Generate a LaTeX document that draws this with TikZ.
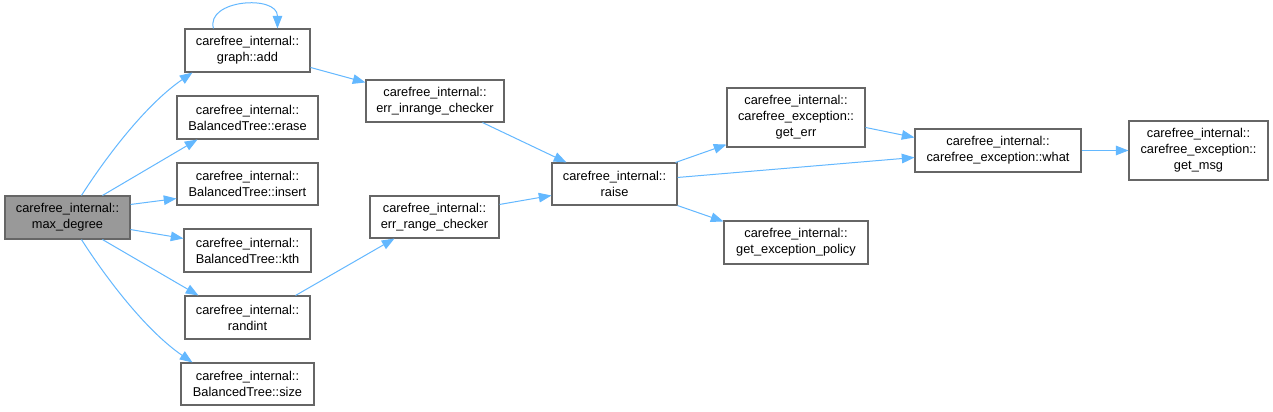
\documentclass[tikz,border=0pt]{standalone}
\usepackage{fontspec}
\setmainfont{Liberation Sans}
\usetikzlibrary{arrows.meta,calc}
\definecolor{edgeblue}{HTML}{63B8FF}
\definecolor{boxgray}{HTML}{666666}
\definecolor{rootfill}{HTML}{999999}
\newcommand\dxbox[7][box]{\node[#1, minimum width={(#5-#3)*0.75pt}, minimum height={(#6-#4)*0.75pt}] (#2) at ({(#3+#5)/2},{(#4+#6)/2}) {#7};}
\begin{document}
\begin{tikzpicture}[x=0.75pt,y=-0.75pt,
  box/.style={draw=boxgray, fill=white, line width=0.8pt, inner sep=0pt, align=center, font=\fontsize{9.6}{12}\selectfont},
  rootbox/.style={box, fill=rootfill},
  edge/.style={draw=edgeblue, line width=0.75pt, -{Triangle[length=9.5pt,width=7.2pt]}}]
\fill[white] (0,0) rectangle (1273,411);
\useasboundingbox (0,0) rectangle (1273,411);

\dxbox[rootbox]{root}{5}{196}{130}{239}{carefree\_internal::\\max\_degree}
\dxbox{add}{185}{29}{310}{72}{carefree\_internal::\\graph::add}
\dxbox{erase}{177}{96}{318}{139}{carefree\_internal::\\BalancedTree::erase}
\dxbox{insert}{177}{163}{318}{205}{carefree\_internal::\\BalancedTree::insert}
\dxbox{kth}{184}{229}{311}{272}{carefree\_internal::\\BalancedTree::kth}
\dxbox{randint}{185}{296}{310}{339}{carefree\_internal::\\randint}
\dxbox{size}{181}{363}{314}{405}{carefree\_internal::\\BalancedTree::size}
\dxbox{inr}{366}{80}{504}{122}{carefree\_internal::\\err\_inrange\_checker}
\dxbox{rng}{370}{196}{499}{238}{carefree\_internal::\\err\_range\_checker}
\dxbox{raise}{552}{163}{677}{205}{carefree\_internal::\\raise}
\dxbox{geterr}{727}{88}{865}{147}{carefree\_internal::\\carefree\_exception::\\get\_err}
\dxbox{policy}{724}{221}{868}{264}{carefree\_internal::\\get\_exception\_policy}
\dxbox{what}{915}{129}{1081}{172}{carefree\_internal::\\carefree\_exception::what}
\dxbox{getmsg}{1129}{121}{1268}{180}{carefree\_internal::\\carefree\_exception::\\get\_msg}

\draw[edge] ([shift={(77,0)}]root.north west) .. controls +(23,-36) and +(-48,33) .. ([shift={(8,0)}]add.south west);
\draw[edge] ([shift={(77,0)}]root.south west) .. controls +(23,36) and +(-48,-33) .. ([shift={(12,0)}]size.north west);
\draw[edge] ([shift={(98,0)}]root.north west) -- ([shift={(21,0)}]erase.south west);
\draw[edge] ([shift={(0,9)}]root.north east) -- ([shift={(0,-7)}]insert.south west);
\draw[edge] ([shift={(0,-10)}]root.south east) -- ([shift={(0,10)}]kth.north west);
\draw[edge] ([shift={(98,0)}]root.south west) -- ([shift={(14,0)}]randint.north west);
\draw[edge] ([shift={(29,0)}]add.north west) .. controls +(-8,-29) and +(0,-34) .. ([shift={(93,0)}]add.north west);
\draw[edge] ([shift={(0,39)}]add.north east) -- ([shift={(0,3)}]inr.north west);
\draw[edge] ([shift={(-15,0)}]randint.north east) -- ([shift={(25,0)}]rng.south west);
\draw[edge] ([shift={(117,0)}]inr.south west) -- ([shift={(15,0)}]raise.north west);
\draw[edge] ([shift={(0,9)}]rng.north east) -- ([shift={(0,33)}]raise.north west);
\draw[edge] ([shift={(-2,0)}]raise.north east) -- ([shift={(0,-3)}]geterr.south west);
\draw[edge] ([shift={(0,15)}]raise.north east) -- ([shift={(0,29)}]what.north west);
\draw[edge] (raise.south east) -- ([shift={(0,1)}]policy.north west);
\draw[edge] ([shift={(0,40)}]geterr.north east) -- ([shift={(0,9)}]what.north west);
\draw[edge] (what.east) -- (getmsg.west);
\end{tikzpicture}
\end{document}
